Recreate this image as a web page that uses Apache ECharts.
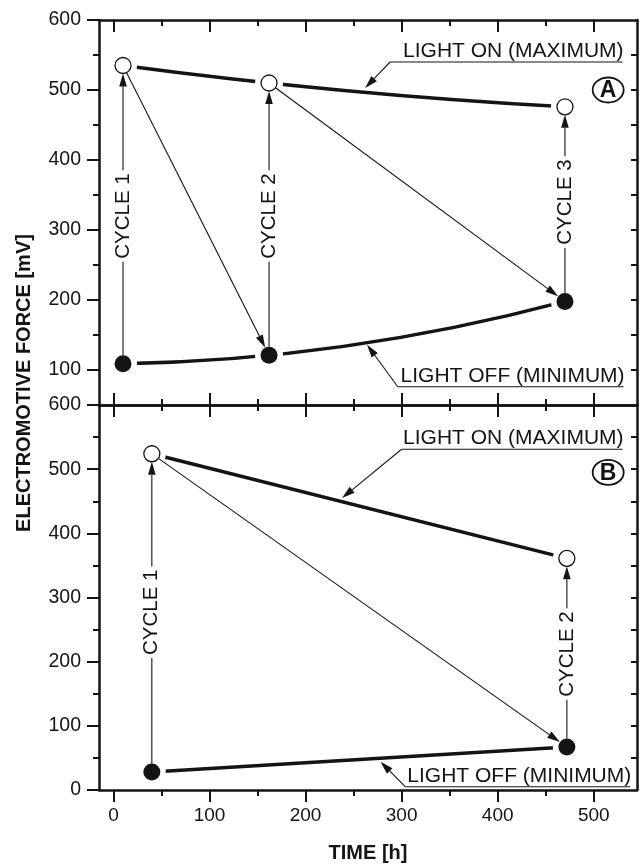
<!DOCTYPE html>
<html>
<head>
<meta charset="utf-8">
<script src="https://cdn.jsdelivr.net/npm/echarts@6/dist/echarts.min.js"></script>
<style>
  html, body { margin: 0; padding: 0; background: #fff; }
  #chart { width: 641px; height: 864px; }
</style>
</head>
<body>
<div id="chart"></div>
<script>
// Panel A: three light cycles
const timeA = [10, 162, 470];
const lightOnA = [535, 510, 476];
const lightOffA = [109, 121, 198];
// Panel B: two light cycles
const timeB = [40, 472];
const lightOnB = [524, 361];
const lightOffB = [28, 67];

// Tick values
const xMajorTicks = [0, 100, 200, 300, 400, 500];
const xMinorTicks = [50, 150, 250, 350, 450];
const yLabelsA = [100, 200, 300, 400, 500, 600];
const yLabelsB = [0, 100, 200, 300, 400, 500, 600];
const yMinorA = [150, 250, 350, 450, 550];
const yMinorB = [50, 150, 250, 350, 450, 550];
const yRightA = [100, 150, 200, 250, 300, 350, 400, 450, 500, 550];
const yRightB = [50, 100, 150, 200, 250, 300, 350, 400, 450, 500, 550];

// Annotation texts and where they sit (data units)
const cycleNamesA = ['CYCLE 1', 'CYCLE 2', 'CYCLE 3'];
const cycleNamesB = ['CYCLE 1', 'CYCLE 2'];
const cycleLabelLevelA = [320, 320, 340];
const cycleLabelLevelB = [277, 212];
const calloutNames = ['LIGHT ON (MAXIMUM)', 'LIGHT OFF (MINIMUM)'];
const calloutsA = [
  { tip: [262, 503], elbow: [288, 540], end: 530 },
  { tip: [264, 136], elbow: [296, 76], end: 531 }
];
const calloutsB = [
  { tip: [238, 455], elbow: [300, 531], end: 530 },
  { tip: [278, 44], elbow: [304, 5], end: 538 }
];
const panelLetterA = { text: 'A', at: [515, 500] };
const panelLetterB = { text: 'B', at: [515, 495] };

const INK = '#141414';
const FONT = "'Liberation Sans', Arial, Helvetica, sans-serif";
const R_OPEN = 8;
const R_FILLED = 8.5;
const X_MIN = -15, X_MAX = 545;

function zip(xs, ys) { return xs.map((x, i) => [x, ys[i]]); }

function moveToward(p, q, d) {
  const dx = q[0] - p[0], dy = q[1] - p[1];
  const L = Math.hypot(dx, dy) || 1;
  return [p[0] + dx / L * d, p[1] + dy / L * d];
}

// thin line ending in a filled arrowhead at "to"
function arrowShapes(from, to) {
  const len = 13, half = 3.8;
  const dx = to[0] - from[0], dy = to[1] - from[1];
  const L = Math.hypot(dx, dy) || 1;
  const ux = dx / L, uy = dy / L;
  const base = [to[0] - ux * len, to[1] - uy * len];
  return [
    { type: 'line', shape: { x1: from[0], y1: from[1], x2: base[0], y2: base[1] },
      style: { stroke: INK, lineWidth: 1.1, fill: 'none' } },
    { type: 'polygon',
      shape: { points: [to, [base[0] - uy * half, base[1] + ux * half], [base[0] + uy * half, base[1] - ux * half]] },
      style: { fill: INK } }
  ];
}

// trend through the measured extremes: a straight segment for two points,
// the parabola through them for three
function trendSeries(xIdx, yIdx, xs, ys) {
  const pts = zip(xs, ys);
  return {
    type: 'custom', xAxisIndex: xIdx, yAxisIndex: yIdx, z: 2, silent: true,
    data: pts,
    renderItem: function (params, api) {
      if (params.dataIndex !== 0) return null;
      const p = pts.map(q => api.coord(q));
      const style = { stroke: INK, lineWidth: 3.5, fill: 'none', lineCap: 'butt' };
      if (p.length === 2) {
        return { type: 'line', shape: { x1: p[0][0], y1: p[0][1], x2: p[1][0], y2: p[1][1] }, style: style };
      }
      const a = p[0], b = p[1], c = p[2];
      const s1 = (b[1] - a[1]) / (b[0] - a[0]);
      const s2 = (c[1] - b[1]) / (c[0] - b[0]);
      const k = (s2 - s1) / (c[0] - a[0]);
      const slope0 = s1 + k * (a[0] - b[0]);
      const cpx = (a[0] + c[0]) / 2;
      const cpy = a[1] + slope0 * (c[0] - a[0]) / 2;
      return { type: 'bezierCurve',
               shape: { x1: a[0], y1: a[1], x2: c[0], y2: c[1], cpx1: cpx, cpy1: cpy },
               style: style };
    }
  };
}

// cycle arrows (off -> on) and drop arrows (on -> next off)
function cycleArrowSeries(xIdx, yIdx, time, on, off, names, levels) {
  const items = [];
  time.forEach((t, i) => {
    items.push({ kind: 'cycle', i: i, value: [t, off[i], t, on[i]] });
    if (i + 1 < time.length) items.push({ kind: 'drop', i: i, value: [t, on[i], time[i + 1], off[i + 1]] });
  });
  return {
    type: 'custom', xAxisIndex: xIdx, yAxisIndex: yIdx, z: 4, silent: true,
    data: items.map(d => d.value),
    renderItem: function (params, api) {
      const it = items[params.dataIndex];
      const a = api.coord([api.value(0), api.value(1)]);
      const b = api.coord([api.value(2), api.value(3)]);
      if (it.kind === 'cycle') {
        const from = moveToward(a, b, R_FILLED);
        const to = moveToward(b, a, R_OPEN);
        const mid = api.coord([time[it.i], levels[it.i]]);
        return { type: 'group', children: arrowShapes(from, to).concat([{
          type: 'text', x: mid[0], y: mid[1], rotation: Math.PI / 2,
          style: { text: names[it.i], fill: INK, fontSize: 20.5, fontFamily: FONT,
                   align: 'center', verticalAlign: 'middle',
                   backgroundColor: '#fff', padding: [0, 3] }
        }]) };
      }
      const from = moveToward(a, b, R_OPEN);
      const to = moveToward(b, a, R_FILLED);
      return { type: 'group', children: arrowShapes(from, to) };
    }
  };
}

// underlined callouts with a leader arrow, plus the circled panel letter
function calloutSeries(xIdx, yIdx, callouts, letter) {
  const data = callouts.map(c => [c.tip[0], c.tip[1]]).concat([letter.at]);
  return {
    type: 'custom', xAxisIndex: xIdx, yAxisIndex: yIdx, z: 4, silent: true,
    data: data,
    renderItem: function (params, api) {
      const i = params.dataIndex;
      if (i === callouts.length) {
        const p = api.coord(letter.at);
        return { type: 'group', children: [
          { type: 'ellipse', shape: { cx: p[0], cy: p[1], rx: 15.5, ry: 12.5 },
            style: { fill: '#fff', stroke: INK, lineWidth: 1.8 } },
          { type: 'text', x: p[0], y: p[1] + 1,
            style: { text: letter.text, fill: INK, fontSize: 23, fontWeight: 'bold', fontFamily: FONT,
                     align: 'center', verticalAlign: 'middle' } }
        ] };
      }
      const c = callouts[i];
      const tip = api.coord(c.tip);
      const elbow = api.coord(c.elbow);
      const end = api.coord([c.end, c.elbow[1]]);
      return { type: 'group', children: arrowShapes(elbow, tip).concat([
        { type: 'line', shape: { x1: elbow[0], y1: elbow[1], x2: end[0], y2: end[1] },
          style: { stroke: INK, lineWidth: 1.1, fill: 'none' } },
        { type: 'text', x: end[0] + 1, y: elbow[1] - 0.5,
          style: { text: calloutNames[i], fill: INK, fontSize: 21, fontFamily: FONT,
                   align: 'right', verticalAlign: 'bottom' } }
      ]) };
    }
  };
}

function haloSeries(xIdx, yIdx, pts) {
  return { type: 'scatter', xAxisIndex: xIdx, yAxisIndex: yIdx, data: pts, symbolSize: 28,
           itemStyle: { color: '#fff', opacity: 1 }, z: 3, silent: true };
}
function markerSeries(xIdx, yIdx, pts, filled) {
  return { type: 'scatter', xAxisIndex: xIdx, yAxisIndex: yIdx, data: pts,
           symbolSize: filled ? 17 : 16,
           itemStyle: filled ? { color: INK, opacity: 1 }
                             : { color: '#fff', borderColor: INK, borderWidth: 1.3, opacity: 1 },
           z: 5, silent: true };
}

const tickLine = { color: INK, width: 2 };
function xAxisDef(grid, position, ticks, len, inside, showLine, labels) {
  return {
    type: 'value', gridIndex: grid, position: position, min: X_MIN, max: X_MAX,
    axisLine: { show: showLine, onZero: false, lineStyle: { color: INK, width: 2.5 } },
    axisTick: { show: true, inside: inside, length: len, lineStyle: tickLine, customValues: ticks },
    axisLabel: labels ? { show: true, customValues: labels, color: INK, fontSize: 19, fontFamily: FONT, margin: 16 }
                      : { show: false },
    splitLine: { show: false }
  };
}
function yAxisDef(grid, position, min, ticks, len, inside, showLine, labels) {
  return {
    type: 'value', gridIndex: grid, position: position, min: min, max: 600,
    axisLine: { show: showLine, onZero: false, lineStyle: { color: INK, width: 2.5 } },
    axisTick: { show: true, inside: inside, length: len, lineStyle: tickLine, customValues: ticks },
    axisLabel: labels ? { show: true, customValues: labels, color: INK, fontSize: 19.5, fontFamily: FONT, margin: 18 }
                      : { show: false },
    splitLine: { show: false }
  };
}

const chart = echarts.init(document.getElementById('chart'), null, { renderer: 'canvas' });
chart.setOption({
  backgroundColor: '#fff',
  animation: false,
  grid: [
    { left: 99, top: 20, width: 538, height: 385 },
    { left: 99, top: 405, width: 538, height: 385 }
  ],
  xAxis: [
    xAxisDef(0, 'top', xMajorTicks, 12, true, true, null),      // 0
    xAxisDef(0, 'top', xMinorTicks, 6, true, false, null),      // 1
    xAxisDef(0, 'bottom', xMajorTicks, 12, true, true, null),   // 2
    xAxisDef(0, 'bottom', xMinorTicks, 6, true, false, null),   // 3
    xAxisDef(1, 'top', xMajorTicks, 12, true, true, null),      // 4
    xAxisDef(1, 'top', xMinorTicks, 6, true, false, null),      // 5
    xAxisDef(1, 'bottom', xMajorTicks, 12, false, true, xMajorTicks), // 6
    xAxisDef(1, 'bottom', xMinorTicks, 6, false, false, null)   // 7
  ],
  yAxis: [
    yAxisDef(0, 'left', 50, yLabelsA, 12, false, true, yLabelsA), // 0
    yAxisDef(0, 'left', 50, yMinorA, 6, false, false, null),      // 1
    yAxisDef(0, 'right', 50, yRightA, 6, true, true, null),       // 2
    yAxisDef(1, 'left', 0, yLabelsB, 12, false, true, yLabelsB),  // 3
    yAxisDef(1, 'left', 0, yMinorB, 6, false, false, null),       // 4
    yAxisDef(1, 'right', 0, yRightB, 6, true, true, null)         // 5
  ],
  series: [
    trendSeries(0, 0, timeA, lightOnA),
    trendSeries(0, 0, timeA, lightOffA),
    haloSeries(0, 0, zip(timeA, lightOnA).concat(zip(timeA, lightOffA))),
    cycleArrowSeries(0, 0, timeA, lightOnA, lightOffA, cycleNamesA, cycleLabelLevelA),
    calloutSeries(0, 0, calloutsA, panelLetterA),
    markerSeries(0, 0, zip(timeA, lightOnA), false),
    markerSeries(0, 0, zip(timeA, lightOffA), true),

    trendSeries(6, 3, timeB, lightOnB),
    trendSeries(6, 3, timeB, lightOffB),
    haloSeries(6, 3, zip(timeB, lightOnB).concat(zip(timeB, lightOffB))),
    cycleArrowSeries(6, 3, timeB, lightOnB, lightOffB, cycleNamesB, cycleLabelLevelB),
    calloutSeries(6, 3, calloutsB, panelLetterB),
    markerSeries(6, 3, zip(timeB, lightOnB), false),
    markerSeries(6, 3, zip(timeB, lightOffB), true)
  ],
  graphic: [
    { type: 'text', x: 24, y: 383, rotation: Math.PI / 2, silent: true,
      style: { text: 'ELECTROMOTIVE FORCE [mV]', fill: INK, font: "bold 20px 'Liberation Sans', Arial, sans-serif",
               align: 'center', verticalAlign: 'middle', textAlign: 'center', textVerticalAlign: 'middle' } },
    { type: 'text', x: 368, y: 853, silent: true,
      style: { text: 'TIME [h]', fill: INK, font: "bold 20px 'Liberation Sans', Arial, sans-serif",
               align: 'center', verticalAlign: 'middle', textAlign: 'center', textVerticalAlign: 'middle' } }
  ]
});
</script>
</body>
</html>
